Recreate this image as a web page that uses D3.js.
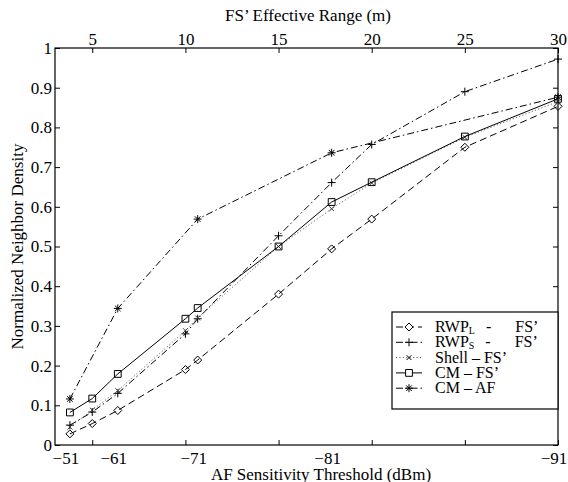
<!DOCTYPE html>
<html>
<head>
<meta charset="utf-8">
<script src="https://cdn.jsdelivr.net/npm/d3@7"></script>
<style>
  body { margin: 0; background: #fff; }
  svg text { font-family: "Liberation Serif", "Times New Roman", Times, serif; }
</style>
</head>
<body>
<svg id="chart" width="568" height="482"></svg>
<script>
// x positions of the samples, in FS' effective range (m)
var rangeM = [3.8, 5, 6.37, 10, 10.66, 15, 17.85, 20, 25, 30];
var rwpL  = [0.028, 0.054, 0.087, 0.19, 0.214, 0.38, 0.494, 0.569, 0.75, 0.853];
var rwpS  = [0.05, 0.083, 0.13, 0.28, 0.318, 0.527, 0.661, 0.757, 0.89, 0.972];
var shell = [0.045, 0.088, 0.137, 0.288, 0.32, 0.5, 0.595, 0.66, 0.775, 0.865];
var cmFS  = [0.082, 0.117, 0.179, 0.318, 0.345, 0.5, 0.612, 0.662, 0.777, 0.872];

// AF thresholds and the range they map to
var afThresh = [-51, -61, -71, -81, -91];
var afRangeM = [3.8, 6.37, 10.66, 17.85, 30];
var cmAF     = [0.116, 0.344, 0.569, 0.736, 0.876];

var topTicks = [5, 10, 15, 20, 25, 30];
var yTicks = [0, 0.1, 0.2, 0.3, 0.4, 0.5, 0.6, 0.7, 0.8, 0.9, 1];

var FONT = '"Liberation Serif", "Times New Roman", Times, serif';
var FS = '17px';

var margin = {top: 48, right: 10, bottom: 37, left: 55},
    width = 568, height = 482,
    chartWidth = width - margin.left - margin.right,
    chartHeight = height - margin.top - margin.bottom;

var svg = d3.select('#chart');
var chartG = svg.append('g')
    .attr('transform', 'translate(' + margin.left + ',' + margin.top + ')');

var x = d3.scaleLinear().domain([3, 30]).range([0, chartWidth]);
var y = d3.scaleLinear().domain([0, 1]).range([chartHeight, 0]);

var tickLen = 5;

// axes (ticks point inward like matlab)
var yAxisL = d3.axisLeft(y).tickValues(yTicks).tickSizeInner(-tickLen).tickSizeOuter(0)
    .tickPadding(3).tickFormat(function(d) { return d3.format('~g')(d); });
var yAxisR = d3.axisRight(y).tickValues(yTicks).tickSizeInner(-tickLen).tickSizeOuter(0)
    .tickFormat('');
var xAxisTop = d3.axisTop(x).tickValues(topTicks).tickSizeInner(-tickLen).tickSizeOuter(0)
    .tickPadding(3);
var xAxisBot = d3.axisBottom(x).tickValues(topTicks).tickSizeInner(-tickLen).tickSizeOuter(0)
    .tickFormat('');

chartG.append('g').attr('class', 'axis yAxis').call(yAxisL);
chartG.append('g').attr('class', 'axis yAxisR')
    .attr('transform', 'translate(' + chartWidth + ',0)').call(yAxisR);
chartG.append('g').attr('class', 'axis xAxisTop').call(xAxisTop);
chartG.append('g').attr('class', 'axis xAxisBot')
    .attr('transform', 'translate(0,' + chartHeight + ')').call(xAxisBot);

chartG.selectAll('.axis').attr('font-family', FONT).attr('font-size', FS);
chartG.selectAll('.axis path').remove();
chartG.selectAll('.axis line').attr('stroke', '#000');
chartG.selectAll('.axis text').attr('fill', '#000');

// box
chartG.append('rect')
    .attr('width', chartWidth).attr('height', chartHeight)
    .attr('fill', 'none').attr('stroke', '#000').attr('stroke-width', 1.2);

// bottom labels for AF thresholds, placed at their mapped range
chartG.append('g').selectAll('text')
  .data(afThresh)
  .enter().append('text')
    .attr('x', function(d, i) { return x(afRangeM[i]) - 4; })
    .attr('y', chartHeight + 19)
    .attr('text-anchor', 'middle')
    .attr('font-family', FONT).attr('font-size', FS)
    .text(function(d) { return '\u2212' + Math.abs(d); });

// titles
svg.append('text')
    .attr('x', 308).attr('y', 21)
    .attr('text-anchor', 'middle')
    .attr('font-family', FONT).attr('font-size', FS)
    .text('FS\u2019 Effective Range (m)');
svg.append('text')
    .attr('x', 321).attr('y', 480)
    .attr('text-anchor', 'middle')
    .attr('font-family', FONT).attr('font-size', FS)
    .text('AF Sensitivity Threshold (dBm)');
svg.append('text')
    .attr('transform', 'translate(23,' + (margin.top + chartHeight / 2) + ') rotate(-90)')
    .attr('text-anchor', 'middle')
    .attr('font-family', FONT).attr('font-size', FS)
    .text('Normalized Neighbor Density');

// markers
var markers = {
  diamond: function(r) { return 'M0,' + (-r) + 'L' + r + ',0L0,' + r + 'L' + (-r) + ',0Z'; },
  square: function(r) { r = r * 0.85; return 'M' + (-r) + ',' + (-r) + 'H' + r + 'V' + r + 'H' + (-r) + 'Z'; },
  plus: function(r) { return 'M' + (-r) + ',0H' + r + 'M0,' + (-r) + 'V' + r; },
  cross: function(r) { r = r * 0.6; return 'M' + (-r) + ',' + (-r) + 'L' + r + ',' + r + 'M' + r + ',' + (-r) + 'L' + (-r) + ',' + r; },
  star: function(r) {
    var s = r * 0.7;
    return 'M' + (-r) + ',0H' + r + 'M0,' + (-r) + 'V' + r +
      'M' + (-s) + ',' + (-s) + 'L' + s + ',' + s + 'M' + s + ',' + (-s) + 'L' + (-s) + ',' + s;
  }
};

var series = [
  {name: 'RWP', sub: 'L', tail: 'FS\u2019', xs: rangeM, ys: rwpL, dash: '7,4', marker: 'diamond', color: '#000'},
  {name: 'RWP', sub: 'S', tail: 'FS\u2019', xs: rangeM, ys: rwpS, dash: '7,3,1.5,3', marker: 'plus', color: '#000'},
  {name: 'Shell \u2013 FS\u2019', xs: rangeM, ys: shell, dash: '1.2,2.2', marker: 'cross', color: '#666'},
  {name: 'CM \u2013 FS\u2019', xs: rangeM, ys: cmFS, dash: null, marker: 'square', color: '#000'},
  {name: 'CM \u2013 AF', xs: afRangeM, ys: cmAF, dash: '7,3,1.5,3', marker: 'star', color: '#000'}
];

var line = d3.line()
    .x(function(d) { return x(d[0]); })
    .y(function(d) { return y(d[1]); });

series.forEach(function(s) {
  var pts = s.xs.map(function(v, i) { return [v, s.ys[i]]; });
  var g = chartG.append('g');
  g.append('path')
    .datum(pts)
    .attr('d', line)
    .attr('fill', 'none')
    .attr('stroke', s.color)
    .attr('stroke-width', 1)
    .attr('stroke-dasharray', s.dash);
  g.selectAll('path.mk')
    .data(pts)
    .enter().append('path')
      .attr('class', 'mk')
      .attr('transform', function(d) { return 'translate(' + x(d[0]) + ',' + y(d[1]) + ')'; })
      .attr('d', markers[s.marker](4))
      .attr('fill', 'none')
      .attr('stroke', s.marker === 'cross' ? '#333' : '#000')
      .attr('stroke-width', 1);
});

// legend
var legX = 392, legY = 312, legW = chartWidth + margin.left - legX, legH = 97;
var legend = svg.append('g').attr('transform', 'translate(' + legX + ',' + legY + ')');
legend.append('clipPath').attr('id', 'legclip')
  .append('rect').attr('width', legW).attr('height', legH);
legend.append('rect')
    .attr('width', legW).attr('height', legH)
    .attr('fill', '#fff').attr('stroke', '#000').attr('stroke-width', 1.2);
var rows = legend.append('g').attr('clip-path', 'url(#legclip)');

series.forEach(function(s, i) {
  var ly = 15 + i * 15.3;
  var row = rows.append('g').attr('transform', 'translate(0,' + ly + ')');
  row.append('line')
    .attr('x1', 4).attr('x2', 30).attr('y1', 0).attr('y2', 0)
    .attr('stroke', s.color).attr('stroke-width', 1)
    .attr('stroke-dasharray', s.dash);
  row.append('path')
    .attr('transform', 'translate(17,0)')
    .attr('d', markers[s.marker](4))
    .attr('fill', '#fff')
    .attr('stroke', '#000').attr('stroke-width', 1);
  var t = row.append('text')
    .attr('x', 43).attr('y', 5)
    .attr('font-family', FONT).attr('font-size', '16px');
  t.append('tspan').text(s.name);
  if (s.sub) {
    t.append('tspan').attr('dy', 2).attr('font-size', '10px').text(s.sub);
    t.append('tspan').attr('dy', -2).attr('dx', 11).text('-');
    t.append('tspan').attr('dx', 24).text(s.tail);
  }
});
</script>
</body>
</html>
